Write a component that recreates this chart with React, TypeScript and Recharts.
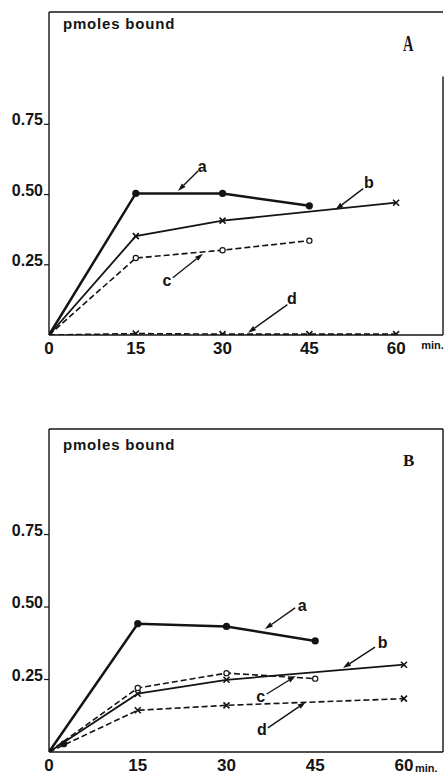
import React from 'react';
import { ComposedChart, Line, XAxis, YAxis, ReferenceLine, ReferenceDot } from 'recharts';

// ---- data ----
const minutes = [0, 15, 30, 45, 60];
const xTicks = [0, 15, 30, 45, 60];
const yTicks = [0.25, 0.5, 0.75];
const yTickLabels = ['0.25', '0.50', '0.75'];

const aPanelA = [0, 0.504, 0.504, 0.46, null];
const bPanelA = [0, 0.352, 0.407, null, 0.471];
const cPanelA = [0, 0.274, 0.302, 0.336, null];
const dPanelA = [0, 0.005, 0.003, 0.003, 0.003];

const aPanelB = [0, 0.4425, 0.433, 0.383, null];
const bPanelB = [0, 0.201, 0.249, null, 0.301];
const cPanelB = [0, 0.221, 0.272, 0.253, null];
const dPanelB = [0, 0.144, 0.161, null, 0.184];
const extraPointB = { t: 2.5, v: 0.028 };

// annotation: label position and arrow from (x1,y1) to (x2,y2), in data units
const annotationsA = [
  { name: 'a', tx: 26.5, ty: 0.599, x1: 25.8, y1: 0.585, x2: 22.3, y2: 0.513 },
  { name: 'b', tx: 55.3, ty: 0.542, x1: 54.3, y1: 0.521, x2: 49.5, y2: 0.446 },
  { name: 'c', tx: 20.4, ty: 0.193, x1: 21.4, y1: 0.204, x2: 26.6, y2: 0.289 },
  { name: 'd', tx: 42.0, ty: 0.129, x1: 41.2, y1: 0.108, x2: 34.4, y2: 0.008 },
];
const annotationsB = [
  { name: 'a', tx: 42.8, ty: 0.507, x1: 41.6, y1: 0.497, x2: 36.5, y2: 0.424 },
  { name: 'b', tx: 56.4, ty: 0.379, x1: 55.1, y1: 0.362, x2: 49.7, y2: 0.29 },
  { name: 'c', tx: 35.8, ty: 0.193, x1: 36.8, y1: 0.2, x2: 41.7, y2: 0.262 },
  { name: 'd', tx: 36.0, ty: 0.079, x1: 37.0, y1: 0.083, x2: 43.4, y2: 0.172 },
];

const buildRows = (a, b, c, d) => minutes.map((t, i) => ({ t, a: a[i], b: b[i], c: c[i], d: d[i] }));
const rowsA = buildRows(aPanelA, bPanelA, cPanelA, dPanelA);
const rowsB = buildRows(aPanelB, bPanelB, cPanelB, dPanelB);

// ---- styles ----
const INK = '#141414';
const FONT = '"Liberation Sans", Arial, Helvetica, sans-serif';

const FilledDot = (p) => {
  if (p.cx == null || p.cy == null || p.value == null) return <g key={p.key} />;
  return <circle key={p.key} cx={p.cx} cy={p.cy} r={3.6} fill={INK} stroke="none" />;
};
const OpenDot = (p) => {
  if (p.cx == null || p.cy == null || p.value == null) return <g key={p.key} />;
  return <circle key={p.key} cx={p.cx} cy={p.cy} r={2.6} fill="#fff" stroke={INK} strokeWidth={1.2} />;
};
const CrossDot = (p) => {
  if (p.cx == null || p.cy == null || p.value == null) return <g key={p.key} />;
  const s = 3;
  return (
    <g key={p.key}>
      <line x1={p.cx - s} y1={p.cy - s} x2={p.cx + s} y2={p.cy + s} stroke={INK} strokeWidth={1.6} />
      <line x1={p.cx - s} y1={p.cy + s} x2={p.cx + s} y2={p.cy - s} stroke={INK} strokeWidth={1.6} />
    </g>
  );
};

const ArrowShape = (p) => {
  const { x1, y1, x2, y2 } = p;
  const dx = x2 - x1;
  const dy = y2 - y1;
  const len = Math.sqrt(dx * dx + dy * dy) || 1;
  const ux = dx / len;
  const uy = dy / len;
  const hl = 8;
  const hw = 2.6;
  const bx = x2 - ux * hl;
  const by = y2 - uy * hl;
  return (
    <g>
      <line x1={x1} y1={y1} x2={bx} y2={by} stroke={INK} strokeWidth={1.4} />
      <polygon
        points={`${x2},${y2} ${bx - uy * hw},${by + ux * hw} ${bx + uy * hw},${by - ux * hw}`}
        fill={INK}
      />
    </g>
  );
};

const makeXTick = (minDx, minDy) => (props) => {
  const { x, y, payload } = props;
  return (
    <g>
      <text x={x} y={y + 19} textAnchor="middle" fontSize={17} fontWeight="bold" fontFamily={FONT} fill={INK}>
        {payload.value}
      </text>
      {payload.value === 60 ? (
        <text x={x + minDx} y={y + minDy} textAnchor="start" fontSize={11} fontWeight="bold" fontFamily={FONT} fill={INK}>
          min.
        </text>
      ) : null}
    </g>
  );
};

const YTick = (props) => {
  const { x, y, payload } = props;
  const idx = yTicks.indexOf(payload.value);
  return (
    <text x={x - 1} y={y + 1} textAnchor="end" fontSize={16} fontWeight="bold" fontFamily={FONT} fill={INK}>
      {idx >= 0 ? yTickLabels[idx] : ''}
    </text>
  );
};

const Panel = ({ rows, annotations, height, marginTop, axisHeight, xMax, yMax, rightTop, minDx, minDy, extra }) => (
  <ComposedChart
    width={448}
    height={height}
    data={rows}
    margin={{ top: marginTop, right: 5, left: 0, bottom: 0 }}
  >
    <XAxis
      dataKey="t"
      type="number"
      domain={[0, xMax]}
      ticks={xTicks}
      allowDataOverflow
      axisLine={{ stroke: INK, strokeWidth: 1.6 }}
      tickLine={false}
      tickSize={0}
      tickMargin={0}
      height={axisHeight}
      tick={makeXTick(minDx, minDy)}
      interval={0}
    />
    <YAxis
      type="number"
      domain={[0, yMax]}
      ticks={yTicks}
      allowDataOverflow
      width={49}
      axisLine={{ stroke: INK, strokeWidth: 1.4 }}
      tickLine={{ stroke: INK, strokeWidth: 1.2 }}
      tickSize={5}
      tickMargin={0}
      tick={YTick}
      interval={0}
    />
    <ReferenceLine y={yMax} stroke={INK} strokeWidth={1.4} ifOverflow="visible" />
    <ReferenceLine
      segment={[{ x: xMax, y: 0 }, { x: xMax, y: rightTop }]}
      stroke={INK}
      strokeWidth={1.4}
      ifOverflow="visible"
    />
    <Line dataKey="d" stroke={INK} strokeWidth={1.6} strokeDasharray="6 3" dot={CrossDot} activeDot={false} connectNulls isAnimationActive={false} />
    <Line dataKey="c" stroke={INK} strokeWidth={1.6} strokeDasharray="6 3" dot={OpenDot} activeDot={false} connectNulls isAnimationActive={false} />
    <Line dataKey="b" stroke={INK} strokeWidth={1.8} dot={CrossDot} activeDot={false} connectNulls isAnimationActive={false} />
    <Line dataKey="a" stroke={INK} strokeWidth={2.5} dot={FilledDot} activeDot={false} connectNulls isAnimationActive={false} />
    {extra ? <ReferenceDot x={extra.t} y={extra.v} r={3.4} fill={INK} stroke="none" /> : null}
    {annotations.map((an) => (
      <ReferenceLine
        key={'arr' + an.name}
        segment={[{ x: an.x1, y: an.y1 }, { x: an.x2, y: an.y2 }]}
        shape={ArrowShape}
        ifOverflow="visible"
      />
    ))}
    {annotations.map((an) => (
      <ReferenceDot
        key={'lab' + an.name}
        x={an.tx}
        y={an.ty}
        r={0}
        fill="none"
        stroke="none"
        ifOverflow="visible"
        label={{ value: an.name, position: 'center', fontSize: 16, fontWeight: 'bold', fontFamily: FONT, fill: INK }}
      />
    ))}
  </ComposedChart>
);

const textStyle = {
  position: 'absolute' as const,
  fontFamily: FONT,
  fontWeight: 'bold' as const,
  color: INK,
  whiteSpace: 'nowrap' as const,
  lineHeight: '15px',
};

export default function App() {
  return (
    <div style={{ position: 'absolute', left: 0, top: 0, width: 448, height: 774, background: '#fff', overflow: 'hidden' }}>
      <div style={{ position: 'absolute', left: 0, top: 0 }}>
        <Panel
          rows={rowsA}
          annotations={annotationsA}
          height={390}
          marginTop={12}
          axisHeight={55}
          xMax={68.1}
          yMax={1.15}
          rightTop={0.92}
          minDx={25}
          minDy={14}
        />
      </div>
      <div style={{ position: 'absolute', left: 0, top: 390 }}>
        <Panel
          rows={rowsB}
          annotations={annotationsB}
          height={384}
          marginTop={39}
          axisHeight={22}
          xMax={66.6}
          yMax={1.114}
          rightTop={1.114}
          minDx={11}
          minDy={20}
          extra={extraPointB}
        />
      </div>
      <div style={{ ...textStyle, left: 63, top: 16, fontSize: 15, letterSpacing: 0.8 }}>pmoles bound</div>
      <div style={{ ...textStyle, left: 63, top: 437, fontSize: 15, letterSpacing: 0.8 }}>pmoles bound</div>
      <div style={{ ...textStyle, left: 403, top: 31, fontSize: 24, fontFamily: '"Liberation Serif", serif', lineHeight: '24px', transform: 'scaleX(0.6)', transformOrigin: 'left top' }}>A</div>
      <div style={{ ...textStyle, left: 403, top: 452, fontSize: 17, fontFamily: '"Liberation Serif", serif', lineHeight: '17px' }}>B</div>
    </div>
  );
}
